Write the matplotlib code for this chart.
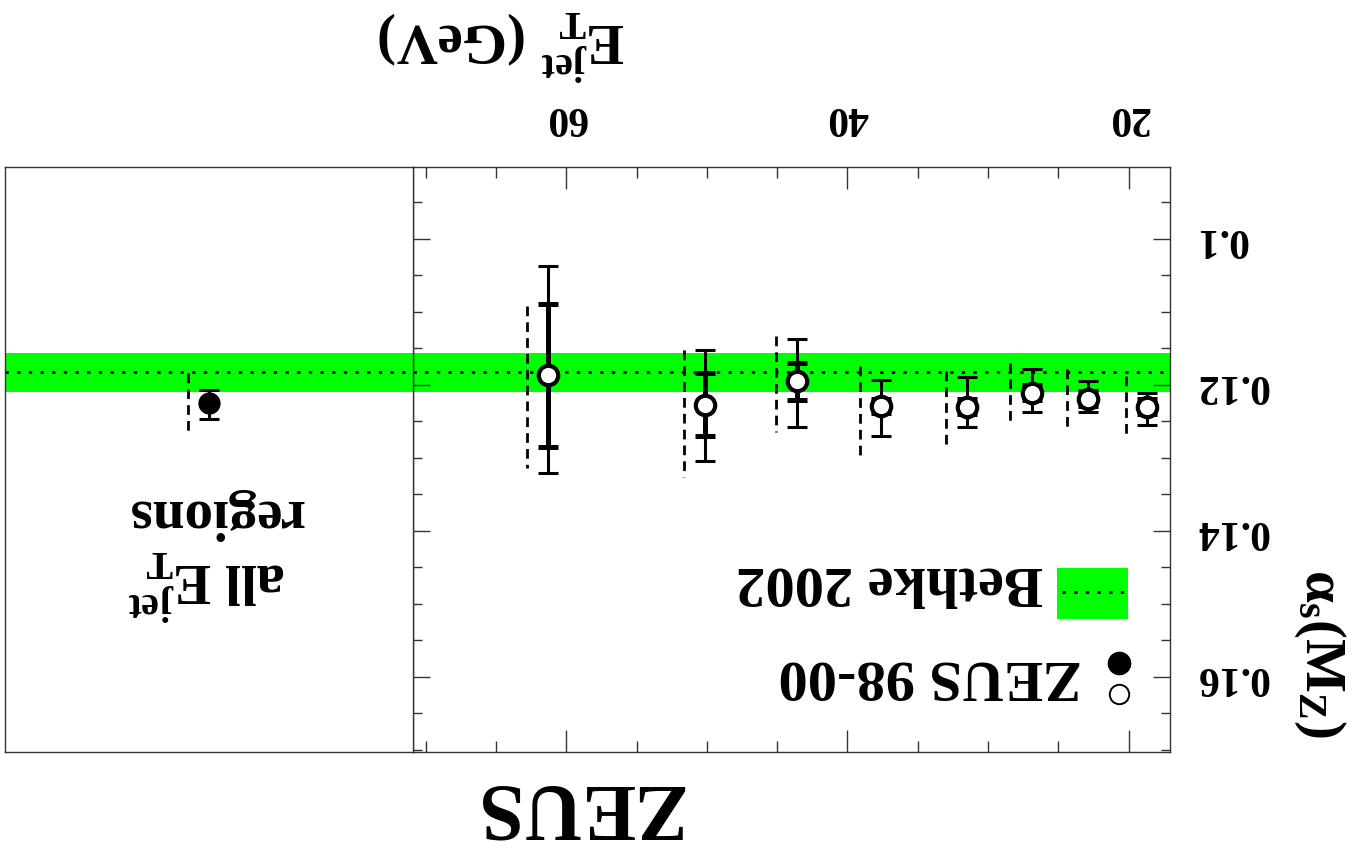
import numpy as np
import matplotlib.pyplot as plt
from matplotlib.ticker import MultipleLocator, FuncFormatter
from matplotlib.patches import Rectangle

plt.rcParams['font.family'] = 'Liberation Serif'
plt.rcParams['font.weight'] = 'bold'
plt.rcParams['mathtext.fontset'] = 'custom'
plt.rcParams['mathtext.rm'] = 'Liberation Serif:bold'
plt.rcParams['mathtext.it'] = 'Liberation Serif:bold'
plt.rcParams['mathtext.bf'] = 'Liberation Serif:bold'
plt.rcParams['mathtext.default'] = 'bf'

# ZEUS 98-00 : alpha_s(M_Z) in bins of E_T^jet
et = np.array([61.3, 50.1, 43.6, 37.6, 31.5, 26.9, 22.9, 18.7])
alpha = np.array([0.1187, 0.1228, 0.1195, 0.1229, 0.1230, 0.1211, 0.1219, 0.1230])
stat_lo = np.array([0.0098, 0.0044, 0.0024, 0.0010, 0.0010, 0.0010, 0.0010, 0.0010])
stat_hi = np.array([0.0098, 0.0042, 0.0026, 0.0010, 0.0010, 0.0010, 0.0010, 0.0010])
exp_lo = np.array([0.0150, 0.0076, 0.0057, 0.0036, 0.0041, 0.0032, 0.0024, 0.0018])
exp_hi = np.array([0.0134, 0.0076, 0.0063, 0.0041, 0.0028, 0.0026, 0.0019, 0.0025])
th_lo = np.array([0.0094, 0.0075, 0.0062, 0.0054, 0.0049, 0.0041, 0.0041, 0.0042])
th_hi = np.array([0.0127, 0.0099, 0.0070, 0.0067, 0.0056, 0.0042, 0.0041, 0.0040])

# all E_T^jet regions combined
comb_alpha = 0.1225
comb_exp = [0.0018, 0.0022]
comb_th = [0.0041, 0.0043]

# world average (Bethke 2002)
bethke = 0.1183
bethke_err = 0.0027

W, H = 1355, 852
fig = plt.figure(figsize=(W/100, H/100), dpi=100)
ax = fig.add_axes([413/W, 100/H, 757/W, 585/H])
axl = fig.add_axes([5/W, 100/H, 408/W, 585/H])

ylim = (0.1703, 0.0902)
dash = (0, (3.5, 2.2))
dots = (0, (1.2, 3.0))

for a in (ax, axl):
    a.axhspan(bethke - bethke_err, bethke + bethke_err, color='#00ff00', lw=0, zorder=0)
    a.axhline(bethke, color='k', lw=2.0, ls=dots, zorder=1)
    a.set_ylim(*ylim)
    for s in a.spines.values():
        s.set_linewidth(1.0)
        s.set_color('#333333')

# main panel
ax.vlines(et + 1.5, alpha - th_lo, alpha + th_hi, colors='k', linestyles=dash, lw=2.0, zorder=2)
ax.errorbar(et, alpha, yerr=[exp_lo, exp_hi], fmt='none', ecolor='k',
            elinewidth=2.2, capsize=7, capthick=2.2, zorder=3)
ax.errorbar(et, alpha, yerr=[stat_lo, stat_hi], fmt='none', ecolor='k',
            elinewidth=3.6, capsize=7, capthick=3.6, zorder=3)
ax.plot(et, alpha, 'o', ms=14, mfc='white', mec='k', mew=3.0, zorder=4)

ax.set_xlim(70.9, 17.05)
ax.xaxis.set_major_locator(MultipleLocator(20))
ax.xaxis.set_minor_locator(MultipleLocator(5))
ax.yaxis.set_major_locator(MultipleLocator(0.02))
ax.yaxis.set_minor_locator(MultipleLocator(0.005))
ax.yaxis.set_major_formatter(FuncFormatter(lambda v, p: f'{v:g}'))
ax.tick_params(axis='x', which='both', direction='in', top=True, bottom=True,
               labeltop=True, labelbottom=False, labelrotation=180, pad=22,
               labelsize=30, width=1, color='#333333')
ax.tick_params(axis='x', which='major', length=16)
ax.tick_params(axis='x', which='minor', length=8)
ax.tick_params(axis='y', which='both', direction='in', left=True, right=True,
               labelleft=False, labelright=True, labelrotation=180, pad=18,
               labelsize=30, width=1, color='#333333')
ax.tick_params(axis='y', which='major', length=12)
ax.tick_params(axis='y', which='minor', length=6.5)
plt.setp(ax.get_yticklabels(), va='center')

# legend (drawn by hand, upside down like the rest)
ax.add_patch(Rectangle((0.8507, 0.2274), 0.0938, 0.0871, transform=ax.transAxes,
                       color='#00ff00', lw=0, zorder=5))
ax.plot([0.857, 0.941], [0.2735, 0.2735], transform=ax.transAxes, color='k',
        lw=2.0, ls=dots, zorder=6)
ax.text(0.8322, 0.2923, 'Bethke 2002', transform=ax.transAxes, rotation=180,
        ha='right', va='center', fontsize=42)
ax.plot(0.9326, 0.1521, 'o', ms=16, color='k', transform=ax.transAxes, zorder=6)
ax.plot(0.9326, 0.0991, 'o', ms=14, mfc='white', mec='k', mew=1.4,
        transform=ax.transAxes, zorder=6)
ax.text(0.8838, 0.1316, 'ZEUS 98-00', transform=ax.transAxes, rotation=180,
        ha='right', va='center', fontsize=42)

# left panel: all regions
axl.set_xlim(1, 0)
axl.set_xticks([])
axl.set_yticks([])
axl.vlines(0.5 + 0.0515, comb_alpha - comb_th[0], comb_alpha + comb_th[1],
           colors='k', linestyles=dash, lw=2.0, zorder=2)
axl.errorbar(0.5, comb_alpha, yerr=[[comb_exp[0]], [comb_exp[1]]], fmt='o', ms=15,
             color='k', elinewidth=2.2, capsize=7, capthick=2.2, zorder=3)
axl.text(0.515, 0.337, 'all $E_T^{jet}$\nregions', transform=axl.transAxes,
         rotation=180, ha='center', va='center', multialignment='right', fontsize=41)

# axis titles
fig.text(502/W, 1 - 45/H, r'$E_T^{jet}$ (GeV)', rotation=180, ha='center',
         va='center', fontsize=41)
fig.text(1320/W, 1 - 653/H, r'$\alpha_s(M_Z)$', rotation=270, ha='center',
         va='center', fontsize=41)
fig.text(577/W, 1 - 805/H, 'ZEUS', rotation=180, ha='center', va='center',
         fontsize=58)

fig.savefig('out.png', dpi=100)
